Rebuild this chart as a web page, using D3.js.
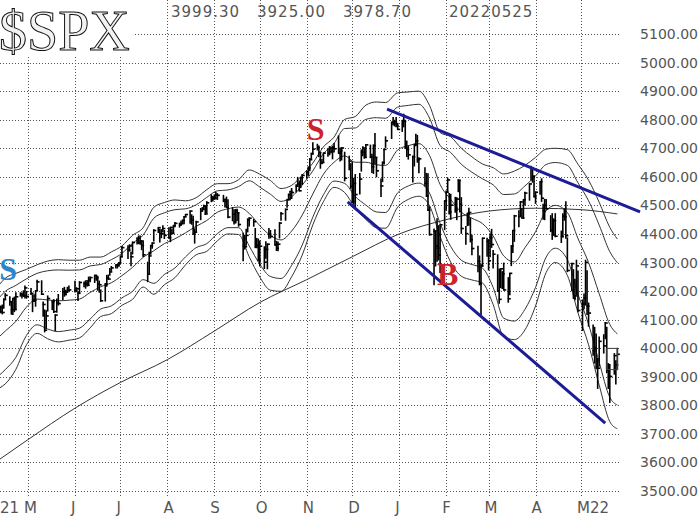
<!DOCTYPE html>
<html><head><meta charset="utf-8">
<script src="https://cdn.jsdelivr.net/npm/d3@7"></script>
<style>html,body{margin:0;padding:0;background:#fff;}svg{display:block;}</style>
</head><body>
<svg id="chart" width="700" height="524"></svg>
<script>
// ---------- DATA ----------
const title = "$SPX";
const headerValues = ["3999.30", "3925.00", "3978.70", "20220525"];
const yTicks = [5100,5000,4900,4800,4700,4600,4500,4400,4300,4200,4100,4000,3900,3800,3700,3600,3500];
const monthTicks = ["2021-05-01","2021-06-01","2021-07-01","2021-08-01","2021-09-01","2021-10-01","2021-11-01","2021-12-01","2022-01-01","2022-02-01","2022-03-01","2022-04-01","2022-05-01"];
const monthLabels = ["M","J","J","A","S","O","N","D","J","F","M","A","M22"];
const firstLabel = "21";
const firstDay = "2021-04-12", lastDay = "2022-05-25";
const holidays = ["2021-05-31","2021-07-05","2021-09-06","2021-11-25","2021-12-24","2022-01-17","2022-02-21","2022-04-15"];

const highs = [
4131,4148,4151,4173,4191,4180,4160,4175,4179,4194,4194,4193,4201,4218,4199,
4209,4187,4187,4202,4238,4236,4162,4134,4131,4183,4166,4170,4117,4172,4188,4209,4213,4203,4213,4218,
4234,4212,4198,4233,4232,4236,4237,4249,4249,4255,4252,4252,4235,4204,4226,4255,4256,4279,4286,4292,4293,4300,
4320,4356,4359,4362,4336,4372,4386,4393,4393,4377,4376,4301,4336,4360,4369,4415,4422,4416,4415,4429,4412,
4422,4423,4416,4430,4440,4438,4445,4449,4461,4468,4480,4467,4462,4418,4444,4489,4492,4501,4499,4513,4537,4531,
4537,4545,4541,4535,4521,4529,4520,4492,4485,4486,4486,4471,4402,4394,4416,4453,4457,4451,4419,4384,4382,
4375,4355,4373,4365,4419,4412,4415,4374,4372,4439,4475,4487,4520,4540,4549,4559,4572,4598,4585,4597,4608,
4620,4635,4664,4683,4719,4714,4708,4685,4661,4683,4697,4706,4701,4706,4717,4743,4701,4702,4686,4672,4646,
4652,4595,4608,4612,4694,4705,4698,4713,4711,4679,4712,4752,4666,4592,4652,4697,4740,4791,4808,4798,4808,4787,
4797,4819,4798,4725,4708,4673,4714,4749,4745,4667,4632,4612,4611,4495,4417,4411,4453,4429,4432,4516,
4550,4595,4542,4539,4528,4527,4590,4589,4527,4426,4472,4490,4456,4395,4357,4323,4294,4385,4385,
4380,4401,4416,4342,4327,4277,4277,4268,4298,4247,4262,4358,4412,4465,4481,4513,4488,4520,4546,4575,4637,4627,4603,
4547,4583,4593,4504,4521,4521,4464,4471,4453,4471,4410,4471,4488,4513,4386,4297,4275,4241,4308,4270,
4169,4190,4308,4271,4158,4081,4073,4050,3964,4039,4047,4090,4073,3946,3943,3981,3956,3999.3];
const lows = [
4114,4124,4120,4140,4171,4150,4119,4118,4128,4138,4182,4176,4181,4176,4175,
4188,4128,4164,4147,4202,4188,4112,4057,4070,4130,4135,4125,4061,4126,4151,4170,4182,4187,4197,4203,
4197,4198,4167,4192,4215,4210,4218,4220,4233,4230,4238,4203,4196,4164,4165,4217,4241,4255,4271,4281,4281,4287,
4300,4323,4314,4340,4289,4330,4365,4366,4364,4345,4321,4233,4262,4329,4350,4375,4405,4372,4387,4408,4384,
4385,4373,4400,4403,4425,4424,4430,4436,4436,4460,4437,4434,4400,4368,4407,4450,4482,4486,4468,4473,4513,4515,
4522,4526,4521,4513,4494,4493,4457,4446,4435,4438,4447,4427,4306,4347,4360,4407,4428,4427,4353,4352,4306,
4288,4279,4315,4278,4385,4386,4361,4342,4341,4386,4448,4448,4493,4519,4520,4524,4547,4569,4551,4562,4573,
4595,4605,4621,4663,4681,4694,4670,4630,4648,4651,4672,4677,4684,4663,4687,4682,4655,4659,4586,4625,4560,
4510,4504,4496,4540,4620,4674,4665,4670,4667,4615,4612,4647,4600,4531,4583,4645,4703,4734,4781,4778,4775,4766,
4759,4775,4699,4671,4662,4582,4638,4709,4651,4614,4568,4531,4482,4396,4222,4288,4304,4309,4265,4415,
4484,4545,4470,4451,4476,4450,4548,4477,4402,4364,4429,4430,4372,4327,4268,4222,4114,4287,4322,
4274,4320,4353,4281,4199,4157,4212,4209,4204,4161,4187,4289,4335,4374,4425,4461,4456,4454,4501,4518,4589,4581,4530,
4507,4539,4514,4451,4450,4487,4408,4381,4395,4390,4370,4389,4448,4385,4268,4201,4175,4170,4188,4128,
4062,4138,4151,4118,4077,3975,3948,3928,3859,3938,3983,4033,3914,3859,3810,3909,3875,3925];
const closes = [
4128,4142,4125,4170,4185,4163,4135,4173,4135,4180,4188,4187,4183,4211,4181,
4192,4165,4168,4201,4232,4189,4153,4063,4113,4174,4163,4128,4116,4159,4156,4197,4188,4196,4201,4204,
4202,4208,4192,4230,4226,4227,4220,4239,4247,4255,4246,4224,4222,4166,4224,4246,4242,4267,4281,4291,4291,4298,
4320,4352,4343,4358,4320,4370,4385,4369,4374,4360,4327,4259,4323,4359,4368,4412,4422,4401,4401,4419,4395,
4387,4423,4402,4429,4437,4432,4436,4447,4460,4468,4480,4449,4400,4406,4442,4480,4486,4497,4470,4509,4529,4523,
4524,4537,4535,4521,4514,4493,4459,4469,4443,4481,4474,4433,4358,4355,4395,4448,4455,4443,4353,4360,4308,
4357,4301,4346,4364,4399,4391,4361,4350,4364,4438,4471,4486,4520,4537,4549,4545,4567,4575,4551,4597,4605,
4614,4631,4660,4680,4697,4702,4685,4647,4650,4683,4682,4701,4689,4704,4698,4683,4691,4701,4595,4655,4567,
4513,4577,4538,4592,4686,4701,4668,4712,4669,4635,4709,4668,4621,4568,4650,4696,4726,4791,4786,4793,4778,4766,
4797,4794,4701,4696,4677,4670,4713,4726,4660,4663,4577,4533,4483,4398,4410,4357,4350,4326,4432,4516,
4546,4589,4477,4501,4484,4522,4587,4504,4419,4401,4472,4475,4380,4349,4304,4225,4288,4385,4374,
4306,4387,4363,4329,4201,4171,4278,4260,4204,4173,4262,4358,4412,4463,4461,4512,4456,4520,4543,4575,4632,4602,4530,
4546,4583,4525,4481,4500,4488,4413,4397,4447,4392,4391,4462,4460,4394,4272,4296,4175,4183,4288,4132,
4155,4175,4300,4147,4123,3991,4001,3935,3930,4024,4008,4088,3923,3901,3901,3974,3941,3978.7];

// 20-day average and bands at weekly points
const bandDates = ["2021-04-12","2021-04-16","2021-04-23","2021-04-30","2021-05-07","2021-05-14","2021-05-21","2021-05-28","2021-06-04","2021-06-11","2021-06-18","2021-06-25","2021-07-02","2021-07-09","2021-07-16","2021-07-23","2021-07-30","2021-08-06","2021-08-13","2021-08-20","2021-08-27","2021-09-03","2021-09-10","2021-09-17","2021-09-24","2021-10-01","2021-10-08","2021-10-15","2021-10-22","2021-10-29","2021-11-05","2021-11-12","2021-11-19","2021-11-26","2021-12-03","2021-12-10","2021-12-17","2021-12-23","2021-12-31","2022-01-07","2022-01-14","2022-01-21","2022-01-28","2022-02-04","2022-02-11","2022-02-18","2022-02-25","2022-03-04","2022-03-11","2022-03-18","2022-03-25","2022-04-01","2022-04-08","2022-04-14","2022-04-22","2022-04-29","2022-05-06","2022-05-13","2022-05-20","2022-05-25"];
const ma20 = [4040,4060,4094,4144,4172,4169,4166,4168,4172,4195,4215,4229,4254,4283,4318,4341,4366,4383,4404,4427,4447,4476,4488,4494,4472,4429,4395,4379,4410,4466,4540,4609,4651,4673,4651,4651,4642,4640,4694,4709,4716,4675,4573,4521,4476,4455,4436,4393,4323,4302,4352,4408,4481,4500,4475,4384,4300,4191,4083,4050];
const upper4 = [4222,4245,4262,4276,4292,4305,4310,4308,4308,4319,4319,4337,4358,4395,4422,4493,4510,4519,4516,4527,4555,4576,4576,4590,4624,4609,4587,4559,4570,4606,4648,4705,4739,4801,4811,4851,4862,4860,4894,4897,4900,4850,4755,4740,4700,4670,4645,4632,4610,4620,4640,4668,4697,4700,4695,4644,4588,4511,4423,4382];
const upper3 = [4177,4199,4220,4243,4262,4271,4274,4273,4274,4288,4293,4310,4332,4367,4396,4455,4474,4485,4488,4502,4528,4551,4554,4566,4586,4564,4539,4514,4530,4571,4621,4681,4717,4769,4771,4801,4807,4805,4844,4850,4854,4806,4710,4685,4644,4616,4593,4572,4538,4540,4568,4603,4643,4650,4640,4579,4516,4431,4338,4299];
const lower3 = [3905,3925,3968,4045,4082,4067,4058,4063,4070,4102,4137,4148,4176,4199,4240,4227,4258,4281,4320,4352,4366,4401,4422,4422,4358,4294,4251,4244,4290,4361,4459,4537,4585,4577,4531,4501,4477,4475,4544,4568,4578,4543,4437,4356,4308,4293,4280,4213,4105,4095,4136,4213,4319,4350,4310,4189,4084,3951,3828,3801];
const lower4 = [3860,3875,3926,4012,4052,4033,4022,4028,4036,4071,4111,4121,4150,4171,4214,4189,4222,4247,4292,4327,4339,4376,4400,4398,4320,4249,4203,4199,4250,4326,4432,4513,4563,4545,4491,4451,4422,4420,4494,4521,4532,4499,4391,4301,4252,4239,4228,4153,4040,4030,4064,4148,4265,4300,4255,4124,4012,3871,3743,3718];

// 200-day average
const ma200Dates = ["2021-04-12","2021-05-01","2021-06-01","2021-07-01","2021-08-01","2021-09-01","2021-10-01","2021-11-01","2021-12-01","2022-01-01","2022-02-01","2022-03-01","2022-04-01","2022-05-01","2022-05-25"];
const ma200 = [3610,3680,3790,3880,3960,4060,4160,4240,4320,4400,4450,4480,4490,4485,4470];

// trend lines and signal letters
const trendUpperDates = ["2021-12-24","2022-06-09"], trendUpperValues = [4837,4477];
const trendLowerDates = ["2021-11-28","2022-05-17"], trendLowerValues = [4512,3738];
const signalLabels = ["S","S","B"];
const signalDates = ["2021-04-12","2021-11-01","2022-01-26"];
const signalValues = [4239,4730,4221];
const signalColors = ["#2c84c9","#cc2229","#cc2229"];

// ---------- DRAW ----------
const parse = d3.timeParse("%Y-%m-%d");
const fmt = d3.timeFormat("%Y-%m-%d");
const svg = d3.select("#chart");
const x = d3.scaleTime().domain([parse("2021-05-01"), parse("2022-05-01")]).range([28, 581]);
const y = d3.scaleLinear().domain([3500, 5100]).range([491, 34]);
const plotRight = 620;

const days = d3.timeDay.range(parse(firstDay), d3.timeDay.offset(parse(lastDay), 1))
  .filter(d => d.getDay() !== 0 && d.getDay() !== 6 && !holidays.includes(fmt(d)));
const n = Math.min(days.length, highs.length, lows.length, closes.length);
const bars = d3.range(n).map(i => ({d: days[i], h: highs[i], l: lows[i], c: closes[i]}));

const grid = svg.append("g").attr("stroke", "#555").attr("stroke-width", 1).attr("stroke-dasharray", "1,2");
grid.selectAll("line.h").data(yTicks).join("line").attr("class", "h")
  .attr("x1", 0).attr("x2", plotRight).attr("y1", d => Math.round(y(d)) + 0.5).attr("y2", d => Math.round(y(d)) + 0.5);
grid.selectAll("line.v").data(monthTicks).join("line").attr("class", "v")
  .attr("x1", d => Math.round(x(parse(d))) + 0.5).attr("x2", d => Math.round(x(parse(d))) + 0.5)
  .attr("y1", 0).attr("y2", 498);

const lineGen = d3.line().x(d => x(d[0])).y(d => y(d[1]));
const smooth = d3.line().x(d => x(d[0])).y(d => y(d[1])).curve(d3.curveMonotoneX);
const bd = bandDates.map(parse);
const series = [ma20, upper4, upper3, lower3, lower4];
svg.append("g").selectAll("path").data(series).join("path")
  .attr("d", s => smooth(s.map((v, i) => [bd[i], v])))
  .attr("fill", "none").attr("stroke", "#333").attr("stroke-width", 1);
svg.append("path").attr("d", smooth(ma200.map((v, i) => [parse(ma200Dates[i]), v])))
  .attr("fill", "none").attr("stroke", "#333").attr("stroke-width", 1);

const bg = svg.append("g").attr("stroke", "#000").attr("stroke-width", 1.6);
bg.selectAll("line.hl").data(bars).join("line").attr("class", "hl")
  .attr("x1", d => x(d.d)).attr("x2", d => x(d.d)).attr("y1", d => y(d.h) - 0.5).attr("y2", d => y(d.l) + 0.5);
bg.selectAll("line.cl").data(bars).join("line").attr("class", "cl")
  .attr("x1", d => x(d.d) - 0.5).attr("x2", d => x(d.d) + 2.5).attr("y1", d => y(d.c)).attr("y2", d => y(d.c));

// last bar box
const lb = bars[bars.length - 1];
svg.append("rect").attr("x", x(lb.d) - 11).attr("y", y(lb.h)).attr("width", 11).attr("height", y(lb.l) - y(lb.h))
  .attr("fill", "none").attr("stroke", "#444").attr("stroke-width", 1);

// trend lines
svg.append("path").attr("d", lineGen(trendUpperValues.map((v, i) => [parse(trendUpperDates[i]), v])))
  .attr("stroke", "#1c1c96").attr("stroke-width", 3).attr("fill", "none");
svg.append("path").attr("d", lineGen(trendLowerValues.map((v, i) => [parse(trendLowerDates[i]), v])))
  .attr("stroke", "#1c1c96").attr("stroke-width", 3).attr("fill", "none");

// signals
svg.selectAll("text.sig").data(signalLabels).join("text").attr("class", "sig")
  .attr("x", (d, i) => x(parse(signalDates[i]))).attr("y", (d, i) => y(signalValues[i]))
  .attr("fill", (d, i) => signalColors[i]).attr("font-family", "Liberation Serif").attr("font-weight", "bold")
  .attr("font-size", 32).text(d => d);

// title
svg.append("rect").attr("x", 0).attr("y", 0).attr("width", 133).attr("height", 56).attr("fill", "#fff");
svg.append("text").attr("x", -1).attr("y", 50).attr("font-family", "Liberation Serif").attr("font-size", 56)
  .attr("fill", "#f2f2f2").attr("stroke", "#111").attr("stroke-width", 1).text(title);

// header values
const headerX = [171, 257, 343, 449];
svg.selectAll("text.hdr").data(headerValues).join("text").attr("class", "hdr")
  .attr("x", (d, i) => headerX[i]).attr("y", 17).attr("font-family", "DejaVu Sans").attr("font-size", 15)
  .attr("letter-spacing", 1).attr("fill", "#555").text(d => d);

// right axis labels
svg.selectAll("text.yl").data(yTicks).join("text").attr("class", "yl")
  .attr("x", 698).attr("y", d => y(d) + 5).attr("text-anchor", "end")
  .attr("font-family", "DejaVu Sans").attr("font-size", 14).attr("fill", "#555")
  .text(d => d3.format(".2f")(d));

// month labels
svg.selectAll("text.ml").data(monthLabels).join("text").attr("class", "ml")
  .attr("x", (d, i) => x(parse(monthTicks[i])) - 4).attr("y", 513)
  .attr("font-family", "DejaVu Sans").attr("font-size", 15).attr("fill", "#555").text(d => d);
svg.append("text").attr("x", 0).attr("y", 513).attr("font-family", "DejaVu Sans").attr("font-size", 15)
  .attr("fill", "#555").text(firstLabel);
</script>
</body></html>
